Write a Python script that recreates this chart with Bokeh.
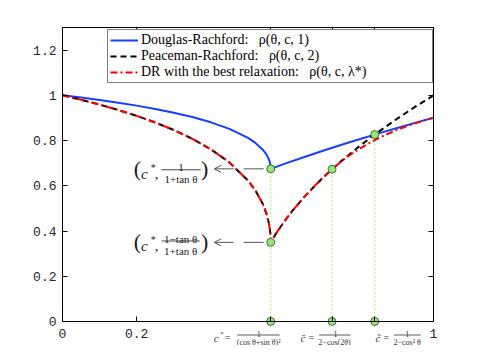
from bokeh.plotting import figure
from bokeh.models import (Range1d, FixedTicker, LinearAxis, Legend, LegendItem, Label,
                          Arrow, OpenHead, CustomJSTickFormatter)
from bokeh.embed import file_html
from bokeh.resources import INLINE

# ---- data --------------------------------------------------------------
c_star = 0.5612     # c*
c_bar = 0.7265      # c-bar
c_tilde = 0.8416    # c-tilde

# Douglas-Rachford: rho(theta, c, 1)
dr_c = [0.0, 0.05, 0.1, 0.15, 0.2, 0.25, 0.3, 0.35, 0.4, 0.45, 0.5, 0.52, 0.54, 0.55,
        0.556, 0.559, 0.56, 0.5605, 0.5612, 0.6, 0.65, 0.7, 0.75, 0.8, 0.8416, 0.85,
        0.9, 0.95, 1.0]
dr_rho = [1.0, 0.9902, 0.9795, 0.9677, 0.9546, 0.9400, 0.9233, 0.9039, 0.8807, 0.8517,
          0.8117, 0.7897, 0.7597, 0.7378, 0.7185, 0.7037, 0.6964, 0.6915, 0.6750, 0.6979,
          0.7264, 0.7538, 0.7803, 0.8059, 0.8265, 0.8307, 0.8547, 0.8782, 0.9010]

# Peaceman-Rachford: rho(theta, c, 2)
pr_c = [0.0, 0.05, 0.1, 0.15, 0.2, 0.25, 0.3, 0.35, 0.4, 0.45, 0.5, 0.52, 0.54, 0.55,
        0.556, 0.559, 0.56, 0.5605, 0.5612, 0.5615, 0.562, 0.563, 0.565, 0.57, 0.58,
        0.6, 0.62, 0.65, 0.68, 0.7, 0.7265, 0.75, 0.8, 0.8416, 0.85, 0.9, 0.95, 1.0]
pr_rho = [1.0, 0.9804, 0.9589, 0.9354, 0.9093, 0.8800, 0.8466, 0.8078, 0.7614, 0.7033,
          0.6235, 0.5794, 0.5193, 0.4756, 0.4371, 0.4075, 0.3928, 0.3831, 0.3499, 0.3507,
          0.3521, 0.3550, 0.3606, 0.3742, 0.4000, 0.4472, 0.4899, 0.5477, 0.6000, 0.6325,
          0.6730, 0.7071, 0.7746, 0.8265, 0.8367, 0.8944, 0.9487, 1.0]

# DR with the best relaxation: rho(theta, c, lambda*)
best_c = [0.0, 0.05, 0.1, 0.15, 0.2, 0.25, 0.3, 0.35, 0.4, 0.45, 0.5, 0.52, 0.54, 0.55,
          0.556, 0.559, 0.56, 0.5605, 0.5612, 0.5615, 0.562, 0.563, 0.565, 0.57, 0.58,
          0.6, 0.62, 0.65, 0.68, 0.7, 0.7265, 0.75, 0.775, 0.8, 0.8416, 0.85, 0.875,
          0.9, 0.925, 0.95, 0.975, 1.0]
best_rho = [1.0, 0.9804, 0.9589, 0.9354, 0.9093, 0.8800, 0.8466, 0.8078, 0.7614, 0.7033,
            0.6235, 0.5794, 0.5193, 0.4756, 0.4371, 0.4075, 0.3928, 0.3831, 0.3499, 0.3507,
            0.3521, 0.3550, 0.3606, 0.3742, 0.4000, 0.4472, 0.4899, 0.5477, 0.6000, 0.6325,
            0.6730, 0.7058, 0.7364, 0.7635, 0.8022, 0.8092, 0.8286, 0.8461, 0.8619, 0.8762,
            0.8892, 0.9010]

# highlighted points
pt_c = [c_star, c_star, c_bar, c_tilde, c_star, c_bar, c_tilde]
pt_rho = [0.6750, 0.3499, 0.6730, 0.8265, 0.0, 0.0, 0.0]
guide_c = [c_star, c_bar, c_tilde]
guide_top = [0.6750, 0.6730, 0.8265]

x_ticks = [0.0, 0.2, c_star, c_bar, c_tilde, 1.0]
x_tick_labels = ["0", "0.2", "", "", "", "1"]
y_ticks = [0.0, 0.2, 0.4, 0.6, 0.8, 1.0, 1.2]
y_tick_labels = ["0", "0.2", "0.4", "0.6", "0.8", "1", "1.2"]

legend_labels = ["Douglas-Rachford:\u00a0\u00a0\u00a0\u03c1(\u03b8, c, 1)",
                 "Peaceman-Rachford:\u00a0\u00a0\u00a0\u03c1(\u03b8, c, 2)",
                 "DR with the best relaxation:\u00a0\u00a0\u00a0\u03c1(\u03b8, c, \u03bb*)"]

# ---- figure: the frame covers the whole canvas, axes sit at fixed places ----
W, H = 464, 345
LEFT, TOP, FW, FH = 62, 27, 371, 294
XU = 1.0 / FW                 # data units per pixel (x)
YU = 1.3 / FH                 # data units per pixel (y)
x_lo, x_hi = -LEFT * XU, (W - LEFT) * XU
y_lo, y_hi = -(H - TOP - FH) * YU, 1.3 + TOP * YU

p = figure(width=W, height=H, output_backend="svg", toolbar_location=None,
           x_range=Range1d(x_lo, x_hi), y_range=Range1d(y_lo, y_hi),
           x_axis_location=None, y_axis_location=None,
           min_border=0, background_fill_color="white", border_fill_color="white")
p.grid.visible = False
p.outline_line_color = None

JS = """
    for (let i = 0; i < tv.length; i++) { if (Math.abs(tv[i] - tick) < 1e-9) return tl[i]; }
    return '';"""


def fmt(tv, tl):
    return CustomJSTickFormatter(args=dict(tv=tv, tl=tl), code=JS)


def blank():
    return CustomJSTickFormatter(code="return '';")


def style_axis(ax, standoff):
    ax.axis_line_color = "black"
    ax.major_tick_line_color = "black"
    ax.major_tick_in = 5
    ax.major_tick_out = 0
    ax.minor_tick_line_color = None
    ax.major_label_text_font = "Liberation Mono"
    ax.major_label_text_font_size = "13px"
    ax.major_label_text_color = "#262626"
    ax.major_label_standoff = standoff


bottom_ax = LinearAxis(ticker=FixedTicker(ticks=x_ticks), formatter=fmt(x_ticks, x_tick_labels),
                       fixed_location=0, bounds=(0, 1))
left_ax = LinearAxis(ticker=FixedTicker(ticks=y_ticks), formatter=fmt(y_ticks, y_tick_labels),
                     fixed_location=0, bounds=(0, 1.3))
top_ax = LinearAxis(ticker=FixedTicker(ticks=x_ticks), formatter=blank(),
                    fixed_location=1.3, bounds=(0, 1))
right_ax = LinearAxis(ticker=FixedTicker(ticks=y_ticks), formatter=blank(),
                      fixed_location=1, bounds=(0, 1.3))
style_axis(bottom_ax, 7)
style_axis(left_ax, 6)
style_axis(top_ax, 0)
style_axis(right_ax, 0)
p.add_layout(bottom_ax, "below")
p.add_layout(left_ax, "left")
p.add_layout(top_ax, "above")
p.add_layout(right_ax, "right")

# dotted guides
p.segment(x0=guide_c, y0=[0.0] * len(guide_c), x1=guide_c, y1=guide_top,
          line_color="#8ff04a", line_width=1.5, line_dash="1 3")

# curves
r_dr = p.line(dr_c, dr_rho, line_color="#1440ff", line_width=2)
r_pr = p.line(pr_c, pr_rho, line_color="black", line_width=2, line_dash="6 4")
r_best = p.line(best_c, best_rho, line_color="#ff0000", line_width=2, line_dash="7 3 2 3")

# points
p.scatter(pt_c, pt_rho, size=8, fill_color="#90ec6a", line_color="#3c3c3c", line_width=0.8)

# ---- annotations ------------------------------------------------------------
TXT = "#1a1a1a"


def lab(x, y, dx, dy, text, size, style="normal", align="left", base="alphabetic", color=TXT):
    p.add_layout(Label(x=x + dx * XU, y=y - dy * YU, text=text,
                       text_font="Liberation Serif", text_font_size=f"{size}px",
                       text_font_style=style, text_align=align, text_baseline=base,
                       text_color=color))


def bar(x, y, dx0, dx1, dy, color=TXT):
    p.add_layout(Arrow(end=None, start=None, x_start=x + dx0 * XU, y_start=y - dy * YU,
                       x_end=x + dx1 * XU, y_end=y - dy * YU, line_color=color, line_width=0.8))


def pointer(x, y):
    p.add_layout(Arrow(end=OpenHead(size=7, line_color="#555555", line_width=1),
                       x_start=x - 7 * XU, y_start=y, x_end=x - 56.5 * XU, y_end=y,
                       line_color="#555555", line_width=1, line_dash="20 10"))


# (c*, 1/(1+tan θ))
y1 = pt_rho[0]
lab(c_star, y1, -137, 0, "(", 22, base="middle")
lab(c_star, y1, -129.7, 5, "c", 15, style="italic")
lab(c_star, y1, -120, -1.5, "*", 10)
lab(c_star, y1, -116, 5, ",", 14)
lab(c_star, y1, -89.7, -1, "1", 11, align="center")
bar(c_star, y1, -109, -70, 0.9)
lab(c_star, y1, -89.7, 10, "1+tan \u03b8", 11, align="center")
lab(c_star, y1, -69.7, 0, ")", 22, base="middle")
pointer(c_star, y1)

# (c*, (1-tan θ)/(1+tan θ))
y2 = pt_rho[1]
lab(c_star, y2, -137, -0.9, "(", 22, base="middle")
lab(c_star, y2, -129.7, 3.5, "c", 15, style="italic")
lab(c_star, y2, -120, -3, "*", 10)
lab(c_star, y2, -116, 3.5, ",", 14)
lab(c_star, y2, -90, -3, "1\u2212tan \u03b8", 11, align="center")
bar(c_star, y2, -109, -71, -1.4)
lab(c_star, y2, -90, 8.3, "1+tan \u03b8", 11, align="center")
lab(c_star, y2, -69.7, -0.9, ")", 22, base="middle")
pointer(c_star, y2)

# tick-position formulas under the axis
SUB = "#333333"
lab(c_star, 0, -56.9, 16, "c", 11, style="italic", color=SUB)
lab(c_star, 0, -50.5, 12.5, "*", 7, color=SUB)
lab(c_star, 0, -46, 16, "=", 10, color=SUB)
lab(c_star, 0, -12, 12, "1", 8, align="center", color=SUB)
bar(c_star, 0, -33.5, 9, 13.5, color=SUB)
lab(c_star, 0, -12, 20.5, "(cos \u03b8+sin \u03b8)\u00b2", 8, align="center", color=SUB)

lab(c_bar, 0, -31.5, 16, "c\u0304", 11, style="italic", color=SUB)
lab(c_bar, 0, -23.5, 16, "=", 10, color=SUB)
lab(c_bar, 0, 3.5, 12, "1", 8, align="center", color=SUB)
bar(c_bar, 0, -13, 18.5, 13.5, color=SUB)
lab(c_bar, 0, 2.5, 20.5, "2\u2212cos(2\u03b8)", 8, align="center", color=SUB)

lab(c_tilde, 0, 0.8, 16, "c\u0303", 11, style="italic", color=SUB)
lab(c_tilde, 0, 8.8, 16, "=", 10, color=SUB)
lab(c_tilde, 0, 32.5, 12, "1", 8, align="center", color=SUB)
bar(c_tilde, 0, 19, 46, 13.5, color=SUB)
lab(c_tilde, 0, 32.5, 20.5, "2\u2212cos\u00b2 \u03b8", 8, align="center", color=SUB)

# ---- legend -------------------------------------------------------------------
legend = Legend(items=[LegendItem(label=legend_labels[0], renderers=[r_dr]),
                       LegendItem(label=legend_labels[1], renderers=[r_pr]),
                       LegendItem(label=legend_labels[2], renderers=[r_best])],
                location=(107, H - 83), orientation="vertical",
                label_text_font="Liberation Serif", label_text_font_size="14px",
                label_text_color="black", glyph_width=28, glyph_height=16,
                label_height=16, label_width=289, label_standoff=3, spacing=0,
                padding=2, margin=0, border_line_color="black", border_line_width=1,
                background_fill_color="white", background_fill_alpha=1.0)
p.add_layout(legend)

open("out.html", "w").write(file_html(p, INLINE))
